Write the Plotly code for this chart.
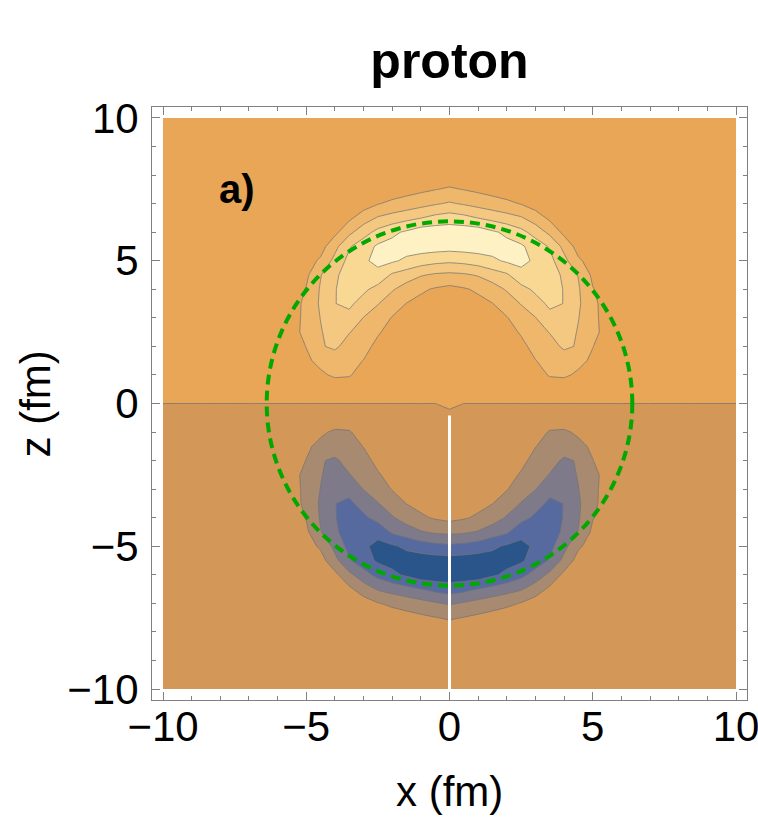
import plotly.graph_objects as go

# Grid nodes (fm) of the upper-right quadrant (x >= 0, z >= 0)
x_nodes = [0, 0.5, 1, 1.5, 2, 2.5, 3, 3.5, 4, 4.5, 5, 5.5, 6, 7, 8.5, 10]
z_nodes = [0, 0.5, 1, 1.5, 2, 2.5, 3, 3.5, 4, 4.5, 5, 5.5, 6, 6.5, 7, 7.5, 8, 9, 10]

# Density difference on the quadrant nodes, one row per z node (contour units)
quad_values = [
    [0.04, 0, 0, 0, 0, 0, 0, 0, 0, 0, 0, 0, 0, 0, 0, 0],
    [0.06, 0.07, 0.08, 0.10, 0.15, 0.20, 0.30, 0.42, 0.50, 0.45, 0.35, 0.25, 0.15, 0.06, 0.02, 0.01],
    [0.10, 0.12, 0.15, 0.20, 0.28, 0.40, 0.60, 1.08, 1.12, 0.87, 0.55, 0.35, 0.20, 0.08, 0.02, 0.01],
    [0.15, 0.18, 0.25, 0.32, 0.45, 0.65, 0.98, 1.25, 1.39, 1.20, 0.87, 0.55, 0.32, 0.12, 0.03, 0.01],
    [0.20, 0.24, 0.32, 0.40, 0.55, 0.80, 1.25, 1.55, 2.20, 1.90, 1.02, 0.60, 0.35, 0.14, 0.04, 0.01],
    [0.26, 0.30, 0.40, 0.50, 0.72, 1.08, 1.55, 2.05, 2.50, 1.92, 1.25, 0.70, 0.40, 0.16, 0.05, 0.01],
    [0.33, 0.38, 0.48, 0.62, 0.95, 1.50, 1.97, 2.70, 2.85, 2.03, 1.20, 0.70, 0.42, 0.17, 0.05, 0.01],
    [0.45, 0.52, 0.72, 0.98, 1.45, 2.05, 2.60, 3.20, 2.98, 2.15, 1.20, 0.65, 0.40, 0.17, 0.05, 0.01],
    [0.72, 0.90, 1.15, 1.55, 2.10, 2.65, 3.20, 3.45, 2.95, 2.10, 1.05, 0.60, 0.35, 0.15, 0.05, 0.01],
    [1.77, 1.85, 2.08, 2.50, 2.85, 3.70, 3.80, 3.40, 2.85, 1.95, 0.80, 0.45, 0.28, 0.12, 0.04, 0.01],
    [3.19, 3.30, 3.50, 3.80, 4.15, 4.25, 3.85, 3.30, 2.30, 1.15, 0.60, 0.35, 0.22, 0.10, 0.03, 0.01],
    [4.40, 4.45, 4.50, 4.45, 4.30, 4.15, 3.55, 2.90, 1.70, 0.60, 0.35, 0.20, 0.14, 0.07, 0.02, 0.01],
    [4.60, 4.60, 4.55, 4.15, 3.80, 3.30, 2.60, 1.75, 0.75, 0.40, 0.22, 0.14, 0.10, 0.05, 0.02, 0.01],
    [3.49, 3.30, 2.98, 2.70, 2.40, 2.10, 1.50, 0.80, 0.40, 0.22, 0.13, 0.10, 0.07, 0.04, 0.01, 0.01],
    [2.11, 1.90, 1.65, 1.40, 1.20, 0.95, 0.55, 0.30, 0.18, 0.10, 0.07, 0.05, 0.04, 0.02, 0.01, 0.01],
    [1.12, 0.97, 0.80, 0.65, 0.50, 0.35, 0.22, 0.13, 0.08, 0.05, 0.04, 0.03, 0.02, 0.01, 0.01, 0.01],
    [0.40, 0.35, 0.30, 0.24, 0.18, 0.13, 0.09, 0.06, 0.04, 0.03, 0.02, 0.02, 0.01, 0.01, 0.01, 0.01],
    [0.08, 0.07, 0.06, 0.05, 0.04, 0.03, 0.02, 0.02, 0.01, 0.01, 0.01, 0.01, 0.01, 0.01, 0.01, 0.01],
    [0.01, 0.01, 0.01, 0.01, 0.01, 0.01, 0.01, 0.01, 0.01, 0.01, 0.01, 0.01, 0.01, 0.01, 0.01, 0.01],
]

# Fill colours of the bands, from the lowest band (< -4) to the highest (> 4)
band_colors = [
    "rgb(41,85,138)", "rgb(87,106,160)", "rgb(126,122,138)", "rgb(168,138,112)", "rgb(211,151,88)",
    "rgb(232,166,86)", "rgb(238,183,107)", "rgb(244,200,129)", "rgb(249,216,148)", "rgb(254,242,197)",
]

nucleus_radius = 6.38          # fm, dashed circle
gap_x = [0, 0]                 # white cut along the negative z axis
gap_z = [-0.42, -10]

tick_vals = [-10, -5, 0, 5, 10]


def mirror_row(row):
    # the field is even in x
    return list(reversed(row[1:])) + list(row)


x_full = [-v for v in reversed(x_nodes[1:])] + x_nodes
z_full = [-v for v in reversed(z_nodes[1:])] + z_nodes
# odd in z: lower half is the negative image of the upper half
rows_lower = [[-v for v in mirror_row(r)] for r in reversed(quad_values[1:])]
rows_upper = [mirror_row(r) for r in quad_values]
field = rows_lower + rows_upper

n = len(band_colors)
colorscale = []
for i, c in enumerate(band_colors):
    lo = max(0.0, (i - 0.5) / (n - 1))
    hi = min(1.0, (i + 0.5) / (n - 1))
    colorscale.append([lo, c])
    colorscale.append([hi, c])

FONT = "Liberation Sans, Arial, Helvetica, sans-serif"

fig = go.Figure()
fig.add_trace(go.Contour(
    x=x_full, y=z_full, z=field,
    autocontour=False,
    contours=dict(start=-4, end=4, size=1, coloring="fill", showlines=True),
    line=dict(color="rgba(115,115,115,0.75)", width=1, smoothing=0),
    colorscale=colorscale,
    showscale=False,
    hoverinfo="skip",
))

fig.add_shape(type="circle", xref="x", yref="y",
              x0=-nucleus_radius, x1=nucleus_radius, y0=-nucleus_radius, y1=nucleus_radius,
              line=dict(color="rgb(0,168,0)", width=4, dash="10px,6px"), layer="above")
fig.add_shape(type="line", xref="x", yref="y",
              x0=gap_x[0], x1=gap_x[1], y0=gap_z[0], y1=gap_z[1],
              line=dict(color="white", width=3), layer="above")

axis_common = dict(
    showgrid=False, zeroline=False, automargin=False,
    showline=True, linecolor="#808080", linewidth=1, mirror="ticks",
    ticks="inside", ticklen=8, tickwidth=1, tickcolor="#808080",
    tickvals=tick_vals, ticklabeloverflow="allow",
    tickfont=dict(family=FONT, size=42, color="black"),
    minor=dict(dtick=1, ticks="inside", ticklen=4, tickwidth=1, tickcolor="#808080"),
)

fig.update_xaxes(range=[-10.384, 10.384], ticklabelstandoff=-10, **axis_common)
fig.update_yaxes(range=[-10.385, 10.385], ticklabelstandoff=4, **axis_common)

fig.add_annotation(text="<b>a)</b>", x=-7.4, y=7.5, xref="x", yref="y",
                   showarrow=False, font=dict(family=FONT, size=40, color="black"))
fig.add_annotation(text="x (fm)", x=0.5, y=-0.155, xref="paper", yref="paper",
                   xanchor="center", yanchor="middle", showarrow=False,
                   font=dict(family=FONT, size=42, color="black"))
fig.add_annotation(text="z (fm)", x=-0.195, y=0.5, xref="paper", yref="paper",
                   xanchor="center", yanchor="middle", textangle=-90, showarrow=False,
                   font=dict(family=FONT, size=42, color="black"))

fig.update_layout(
    width=758, height=817,
    margin=dict(l=152, r=11, t=107, b=117, autoexpand=False),
    paper_bgcolor="white", plot_bgcolor="white",
    title=dict(text="<b>proton</b>", x=0.5, xref="paper", xanchor="center",
               y=1 - 60 / 817, yref="container", yanchor="middle",
               font=dict(family=FONT, size=50, color="black")),
    showlegend=False,
)

fig.write_html("out.html")
